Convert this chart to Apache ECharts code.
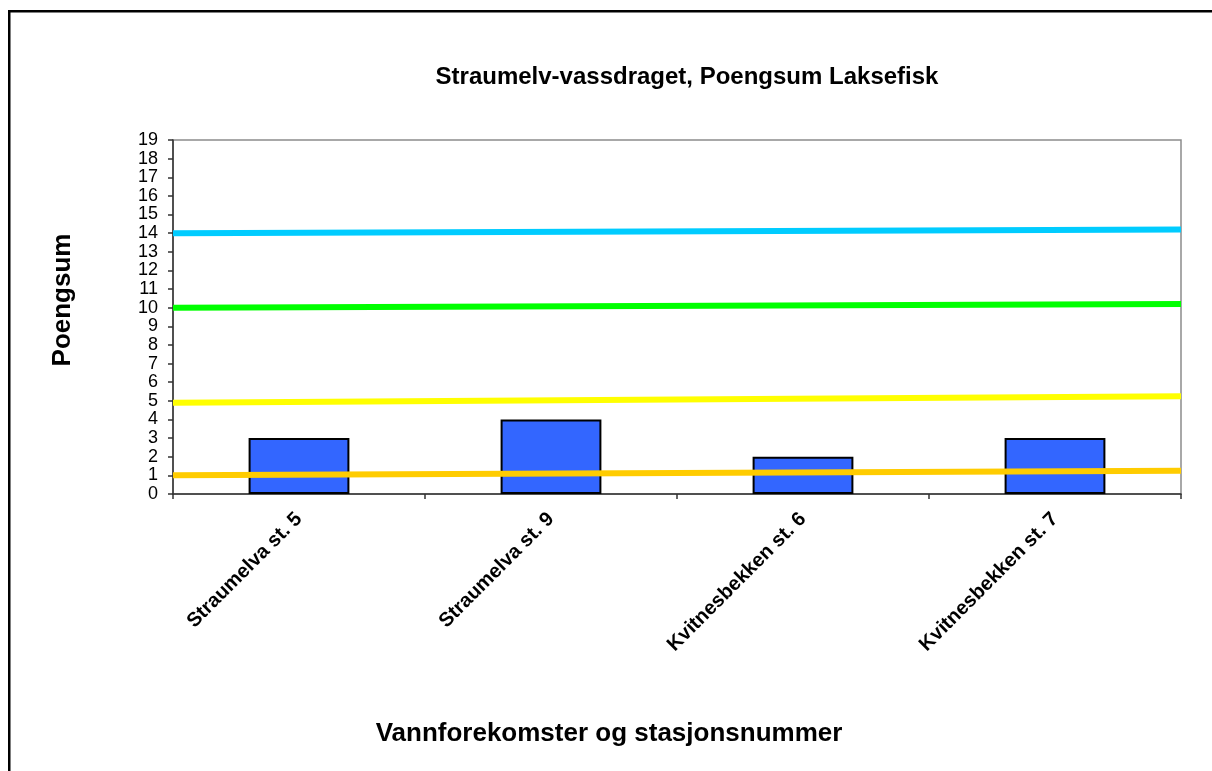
<!DOCTYPE html>
<html>
<head>
<meta charset="utf-8">
<script src="https://cdn.jsdelivr.net/npm/echarts@6/dist/echarts.min.js"></script>
<style>
html,body{margin:0;padding:0;background:#fff;}
#chart{width:1212px;height:771px;}
</style>
</head>
<body>
<div id="chart"></div>
<script>
const categories = ['Straumelva st. 5', 'Straumelva st. 9', 'Kvitnesbekken st. 6', 'Kvitnesbekken st. 7'];
const scores = [3, 4, 2, 3];
const yTicks = [0,1,2,3,4,5,6,7,8,9,10,11,12,13,14,15,16,17,18,19];
const lineNames = ['Cyan', 'Green', 'Yellow', 'Orange'];
const lineStart = [14.0, 10.0, 4.9, 1.0];
const lineEnd = [14.2, 10.2, 5.25, 1.25];
const lineColors = ['#00CCFF', '#00FF00', '#FFFF00', '#FFCC00'];

const FONT = 'Arial, "Liberation Sans", sans-serif';
const chart = echarts.init(document.getElementById('chart'), null, {renderer: 'canvas'});

const lineSeries = lineNames.map((n, i) => ({
  name: n,
  type: 'line',
  xAxisIndex: 1,
  data: [[0, lineStart[i]], [1, lineEnd[i]]],
  symbol: 'none',
  lineStyle: {color: lineColors[i], width: 6},
  z: 4,
  silent: true,
  animation: false
}));

chart.setOption({
  animation: false,
  backgroundColor: '#fff',
  title: [
    {text: 'Straumelv-vassdraget, Poengsum Laksefisk', left: 682, top: 60, textAlign: 'center',
     textStyle: {fontFamily: FONT, fontSize: 24, fontWeight: 'bold', color: '#000'}},
    {text: 'Vannforekomster og stasjonsnummer', left: 604, top: 716, textAlign: 'center',
     textStyle: {fontFamily: FONT, fontSize: 26, fontWeight: 'bold', color: '#000'}}
  ],
  graphic: [
    {type: 'rect', shape: {x: 9.25, y: 11.25, width: 1300, height: 900},
     style: {fill: 'none', stroke: '#000', lineWidth: 2.5}, silent: true},
    {type: 'text', x: 63, y: 300, rotation: Math.PI / 2,
     style: {text: 'Poengsum', fontFamily: FONT, fontSize: 26, fontWeight: 'bold', fill: '#000',
             align: 'center', verticalAlign: 'middle'}}
  ],
  grid: {left: 173, top: 140, right: 31, bottom: 277, show: true, borderColor: '#8c8c8c', borderWidth: 1.5, containLabel: false},
  xAxis: [
    {type: 'category', data: categories, boundaryGap: true,
     axisLine: {show: true, lineStyle: {color: '#333', width: 1.5}},
     axisTick: {show: true, inside: false, length: 5, interval: 0, lineStyle: {color: '#333', width: 1.5}},
     axisLabel: {interval: 0, rotate: 45, margin: 22, fontFamily: FONT, fontSize: 20, fontWeight: 'bold', color: '#000'},
     splitLine: {show: false}},
    {type: 'value', min: 0, max: 1, show: false}
  ],
  yAxis: {
    type: 'value', min: 0, max: 19, interval: 1,
    axisLine: {show: true, lineStyle: {color: '#333', width: 1.5}},
    axisTick: {show: true, inside: false, length: 5, lineStyle: {color: '#333', width: 1.5}},
    axisLabel: {margin: 15, fontFamily: FONT, fontSize: 18, color: '#000',
      formatter: (v) => yTicks.includes(v) ? String(v) : ''},
    splitLine: {show: false}
  },
  series: [
    {type: 'bar', data: scores, barWidth: '40%', z: 2,
     itemStyle: {color: '#3366FF', borderColor: '#000', borderWidth: 2}, silent: true}
  ].concat(lineSeries)
});
</script>
</body>
</html>
